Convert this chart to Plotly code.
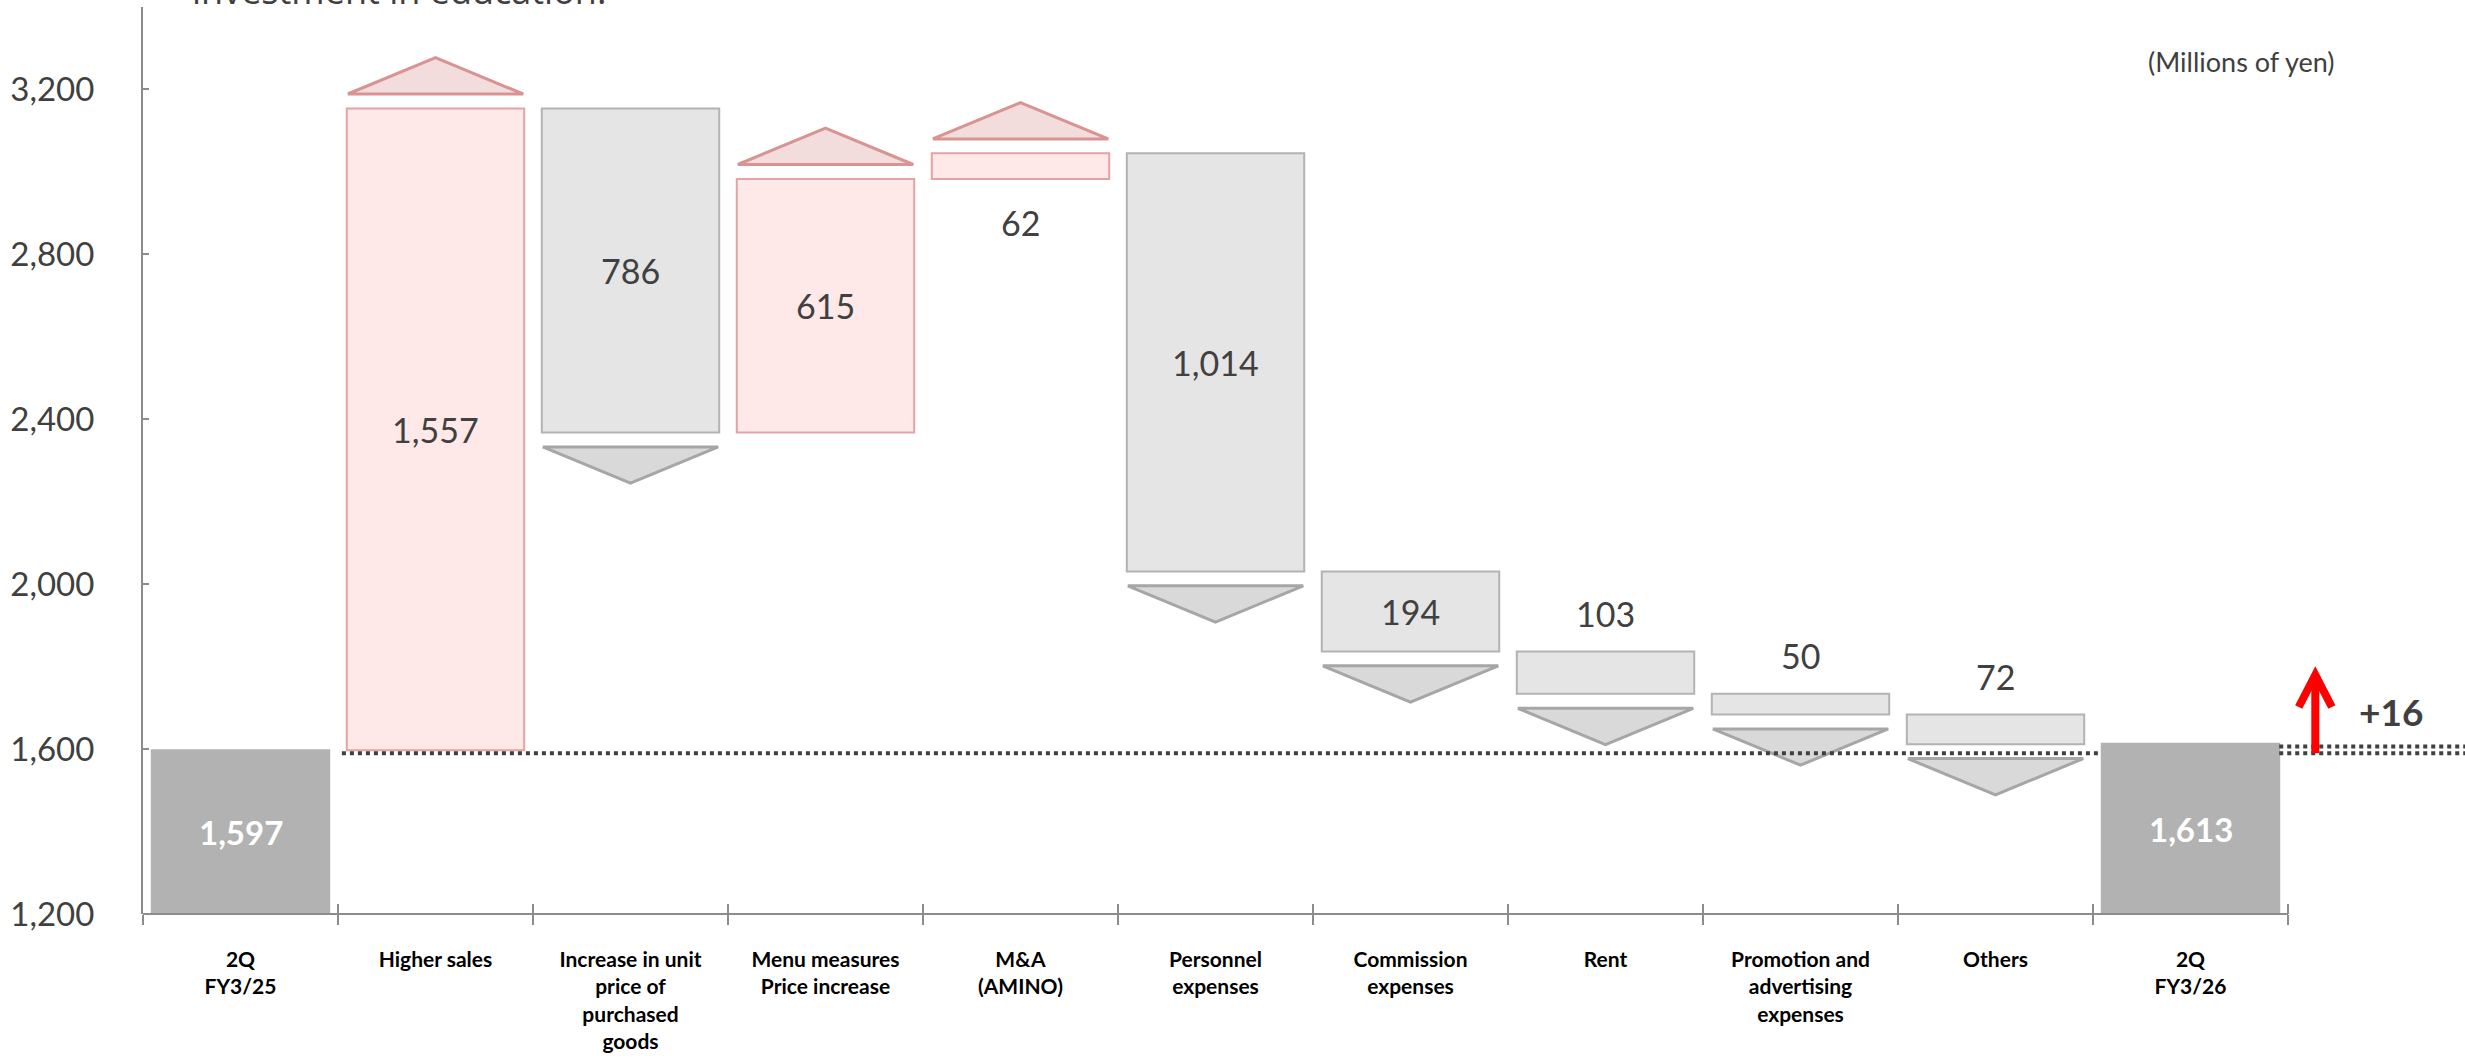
import plotly.graph_objects as go

# ---------------- data ----------------
categories = [
    "2Q<br>FY3/25",
    "Higher sales",
    "Increase in unit<br>price of<br>purchased<br>goods",
    "Menu measures<br>Price increase",
    "M&A<br>(AMINO)",
    "Personnel<br>expenses",
    "Commission<br>expenses",
    "Rent",
    "Promotion and<br>advertising<br>expenses",
    "Others",
    "2Q<br>FY3/26",
]
start_value = 1597
changes = [1557, -786, 615, 62, -1014, -194, -103, -50, -72]
end_value = 1613
y_ticks = [1200, 1600, 2000, 2400, 2800, 3200]
unit_label = "(Millions of yen)"
top_text = "investment in education."
# where each change label sits relative to its bar
label_place = ["in", "in", "in", "below", "in", "in", "above", "above", "above"]

# ---------------- style ----------------
Y_MIN, Y_MAX = 1200, 3400
BAR_W = 0.91
TRI_HALF = 0.45
TRI_GAP = 35
TRI_H = 88
DOT_OFF = -7
W, H = 2465, 1058
ML, MR, MT, MB = 143, 0, 7, 144
CAT_PX = 195
X_MAX = -0.5 + (W - ML - MR) / CAT_PX

POS_FILL, POS_LINE = "#FFE8E8", "#E3A3A3"
NEG_FILL, NEG_LINE = "#E5E5E5", "#B3B3B3"
TOT_FILL = "#B2B2B2"
POS_TRI_FILL, POS_TRI_LINE = "#F2DCDC", "#D99393"
NEG_TRI_FILL, NEG_TRI_LINE = "#D9D9D9", "#A6A6A6"
AXIS_COL = "#8C8C8C"
TXT = "#404040"
FONT = "Lato"

# ---------------- build bars ----------------
n = len(categories)
xs = list(range(n))
bases, heights, fills, lines = [], [], [], []
bases.append(0); heights.append(start_value); fills.append(TOT_FILL); lines.append(TOT_FILL)
running = start_value
spans = []
for c in changes:
    lo, hi = min(running, running + c), max(running, running + c)
    spans.append((lo, hi))
    bases.append(lo); heights.append(hi - lo)
    fills.append(POS_FILL if c > 0 else NEG_FILL)
    lines.append(POS_LINE if c > 0 else NEG_LINE)
    running += c
bases.append(0); heights.append(end_value); fills.append(TOT_FILL); lines.append(TOT_FILL)

fig = go.Figure()
fig.add_trace(go.Bar(
    x=xs, y=heights, base=bases, width=BAR_W,
    marker=dict(color=fills, line=dict(color=lines, width=2)),
    hoverinfo="skip", showlegend=False,
))

# triangles
px_, py_, nx_, ny_ = [], [], [], []
for i, (c, (lo, hi)) in enumerate(zip(changes, spans), start=1):
    if c > 0:
        b = hi + TRI_GAP
        px_ += [i - TRI_HALF, i + TRI_HALF, i, i - TRI_HALF, None]
        py_ += [b, b, b + TRI_H, b, None]
    else:
        b = lo - TRI_GAP
        nx_ += [i - TRI_HALF, i + TRI_HALF, i, i - TRI_HALF, None]
        ny_ += [b, b, b - TRI_H, b, None]
fig.add_trace(go.Scatter(x=px_, y=py_, mode="lines", fill="toself",
                         fillcolor=POS_TRI_FILL, line=dict(color=POS_TRI_LINE, width=3),
                         hoverinfo="skip", showlegend=False))
fig.add_trace(go.Scatter(x=nx_, y=ny_, mode="lines", fill="toself",
                         fillcolor=NEG_TRI_FILL, line=dict(color=NEG_TRI_LINE, width=3),
                         hoverinfo="skip", showlegend=False))

# dotted reference lines
last = n - 1
fig.add_trace(go.Scatter(
    x=[0.52, last - BAR_W / 2, None, last + BAR_W / 2, X_MAX],
    y=[start_value + DOT_OFF] * 2 + [None] + [start_value + DOT_OFF] * 2,
    mode="lines", line=dict(color=TXT, width=4, dash="dot"),
    hoverinfo="skip", showlegend=False))
fig.add_trace(go.Scatter(
    x=[last + BAR_W / 2, X_MAX], y=[end_value + DOT_OFF] * 2,
    mode="lines", line=dict(color=TXT, width=4, dash="dot"),
    hoverinfo="skip", showlegend=False))

# invisible trace to carry the overlay axis
fig.add_trace(go.Scatter(x=[0], y=[Y_MIN], xaxis="x2", mode="markers",
                         marker=dict(opacity=0), hoverinfo="skip", showlegend=False))

annotations = []
for i, (c, (lo, hi), place) in enumerate(zip(changes, spans, label_place), start=1):
    if place == "in":
        yv = (lo + hi) / 2
    elif place == "below":
        yv = lo - 105
    else:
        yv = hi + 92
    annotations.append(dict(x=i, y=yv, text=f"{abs(c):,}", showarrow=False,
                            font=dict(family=FONT, size=34, color=TXT)))
for i, v in ((0, start_value), (last, end_value)):
    annotations.append(dict(x=i, y=(Y_MIN + v) / 2, text=f"<b>{v:,}</b>", showarrow=False,
                            font=dict(family=FONT, size=33, color="white")))

diff = end_value - start_value
arrow_x = 10.64
arrow_tip = start_value + DOT_OFF + 190
annotations.append(dict(x=11.03, y=1692, text=f"<b>{diff:+d}</b>", showarrow=False,
                        font=dict(family=FONT, size=37, color=TXT)))
annotations.append(dict(x=10.26, y=3268, text=unit_label, showarrow=False,
                        font=dict(family=FONT, size=27, color=TXT)))
annotations.append(dict(xref="paper", yref="paper", x=(190 - ML) / (W - ML - MR), y=0.989,
                        xanchor="left", yanchor="bottom", text=top_text, showarrow=False,
                        font=dict(family="Open Sans", size=36, color=TXT)))

shapes = [
    # x axis line
    dict(type="line", xref="x", yref="paper", x0=-0.5, x1=last + 0.5, y0=0, y1=0,
         line=dict(color=AXIS_COL, width=2), layer="above"),
    # red arrow
    dict(type="line", xref="x", yref="y", x0=arrow_x, x1=arrow_x,
         y0=start_value + DOT_OFF, y1=arrow_tip, line=dict(color="#FF0000", width=8)),
    dict(type="path", xref="x", yref="y",
         path=f"M {arrow_x - 0.085},{arrow_tip - 78} L {arrow_x},{arrow_tip} L {arrow_x + 0.085},{arrow_tip - 78}",
         line=dict(color="#FF0000", width=8)),
]

bounds = [i - 0.5 for i in range(n + 1)]
fig.update_layout(
    width=W, height=H,
    margin=dict(l=ML, r=MR, t=MT, b=MB),
    plot_bgcolor="white", paper_bgcolor="white",
    showlegend=False,
    annotations=annotations, shapes=shapes,
    xaxis=dict(range=[-0.5, X_MAX], tickmode="array", tickvals=xs, ticktext=categories,
               ticks="", showline=False, showgrid=False, zeroline=False,
               tickfont=dict(family=FONT, size=21, color="black", weight="bold"),
               ticklabelstandoff=31,
               minor=dict(tickmode="array", tickvals=bounds, ticks="outside",
                          ticklen=10, tickwidth=2, tickcolor=AXIS_COL, showgrid=False)),
    xaxis2=dict(range=[-0.5, X_MAX], overlaying="x", anchor="y", side="bottom",
                tickmode="array", tickvals=bounds, ticks="inside", ticklen=10,
                tickwidth=2, tickcolor=AXIS_COL, showticklabels=False,
                showline=False, showgrid=False, zeroline=False),
    yaxis=dict(range=[Y_MIN, Y_MAX], tickmode="array", tickvals=y_ticks,
               ticktext=[f"{v:,}" for v in y_ticks], ticks="inside", ticklen=6,
               tickwidth=2, tickcolor=AXIS_COL, showline=True, linecolor=AXIS_COL,
               linewidth=2, showgrid=False, zeroline=False,
               tickfont=dict(family=FONT, size=33, color=TXT), ticklabelstandoff=40),
)

fig.write_html("out.html")
